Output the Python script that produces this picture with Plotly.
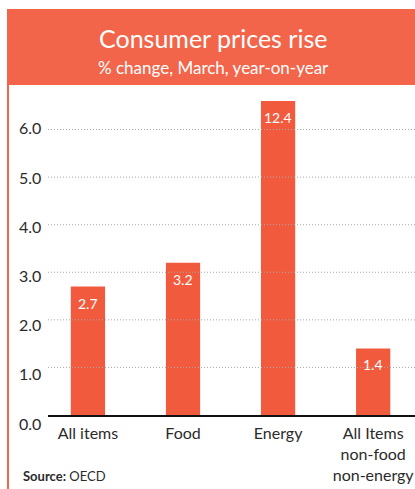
import plotly.graph_objects as go

# Data
categories = ["All items", "Food", "Energy", "All Items<br>non-food<br>non-energy"]
values = [2.7, 3.2, 12.4, 1.4]
value_labels = ["2.7", "3.2", "12.4", "1.4"]
y_ticks = [0.0, 1.0, 2.0, 3.0, 4.0, 5.0, 6.0]
y_tick_labels = ["0.0", "1.0", "2.0", "3.0", "4.0", "5.0", "6.0"]
y_max = 6.6  # axis is cut short; taller bars run off the top

ORANGE = "#F25A3E"
HEADER = "#F2654A"
TEXT = "#2b2b2b"
FONT = "Lato, 'Open Sans', sans-serif"

W, H = 415, 489
L, R, T, B = 48, 0, 101, 74
pw, ph = W - L - R, H - T - B


def px_x(px):
    return (px - L) / pw


def px_y(py):
    return (H - B - py) / ph


fig = go.Figure()
fig.add_trace(go.Bar(
    x=list(range(len(categories))),
    y=values,
    marker=dict(color=ORANGE, line=dict(width=0)),
    width=0.36,
    hoverinfo="skip",
))

shapes = []
# header band
shapes.append(dict(type="rect", xref="paper", yref="paper",
                   x0=px_x(7), x1=px_x(W + 5), y0=px_y(85), y1=px_y(9),
                   fillcolor=HEADER, line=dict(width=0), layer="below"))
# left frame rule
shapes.append(dict(type="line", xref="paper", yref="paper",
                   x0=px_x(8), x1=px_x(8), y0=px_y(85), y1=px_y(H + 5),
                   line=dict(color=HEADER, width=2)))
# fine dotted grid lines drawn over the bars
for t in y_ticks[1:]:
    shapes.append(dict(type="line", xref="paper", yref="y",
                       x0=0, x1=1, y0=t, y1=t, layer="above",
                       line=dict(color="#a8a8a8", width=1, dash="1px,2px")))

annotations = []
annotations.append(dict(text="Consumer prices rise", xref="paper", yref="paper",
                        x=px_x(213), y=px_y(38), showarrow=False,
                        font=dict(family=FONT, size=25, color="white"),
                        xanchor="center", yanchor="middle"))
annotations.append(dict(text="% change, March, year-on-year", xref="paper", yref="paper",
                        x=px_x(213), y=px_y(68), showarrow=False,
                        font=dict(family=FONT, size=17, color="white"),
                        xanchor="center", yanchor="middle"))
# y tick labels sit a little below their grid lines, more so near the base
for t, lab in zip(y_ticks, y_tick_labels):
    annotations.append(dict(text=lab, xref="paper", yref="y", x=px_x(43), y=t,
                            showarrow=False, xanchor="right", yanchor="middle",
                            yshift=-8 + 1.6 * t,
                            font=dict(family=FONT, size=16, color=TEXT)))
# value labels inside the top of each visible bar
for i, (v, lab) in enumerate(zip(values, value_labels)):
    annotations.append(dict(text=lab, x=i, y=min(v, y_max), xref="x", yref="y",
                            showarrow=False, yanchor="top", yshift=-6,
                            font=dict(family=FONT, size=14, color="white")))
annotations.append(dict(text="<b>Source:</b> OECD", xref="paper", yref="paper",
                        x=px_x(21), y=px_y(476), showarrow=False,
                        xanchor="left", yanchor="middle",
                        font=dict(family=FONT, size=13, color=TEXT)))

fig.update_layout(
    width=W, height=H,
    margin=dict(l=L, r=R, t=T, b=B, pad=0),
    paper_bgcolor="white", plot_bgcolor="white",
    showlegend=False,
    shapes=shapes,
    annotations=annotations,
    xaxis=dict(range=[-0.42, 3.44], tickmode="array",
               tickvals=list(range(len(categories))), ticktext=categories,
               showgrid=False, zeroline=False, showline=True,
               linecolor="#111", linewidth=2, ticks="",
               ticklabelstandoff=3,
               tickfont=dict(family=FONT, size=16, color=TEXT), fixedrange=True),
    yaxis=dict(range=[0, y_max], showgrid=False, zeroline=False,
               showticklabels=False, ticks="", fixedrange=True),
)

fig.write_html("out.html")
